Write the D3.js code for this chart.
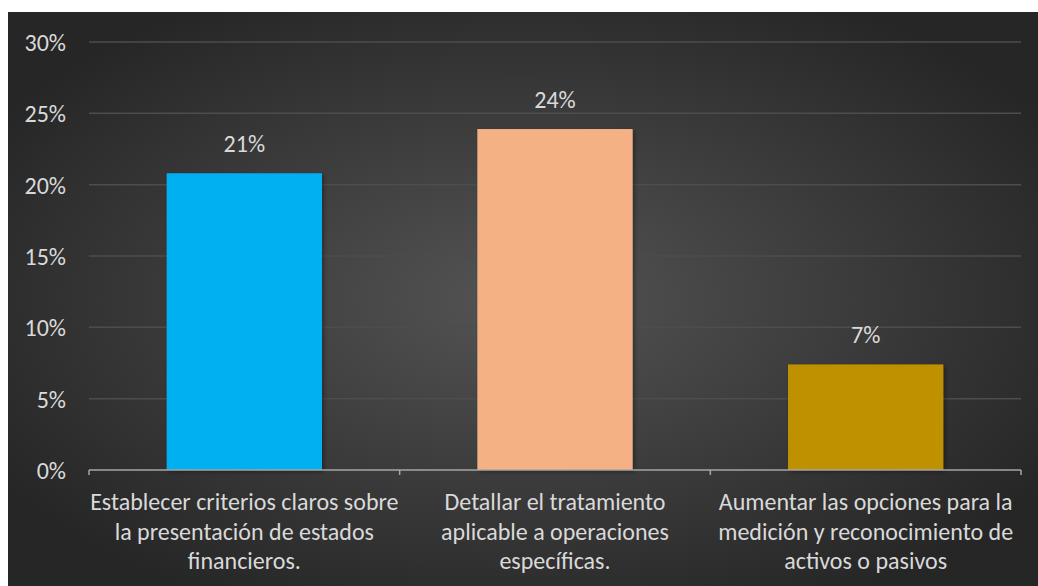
<!DOCTYPE html>
<html><head><meta charset="utf-8">
<script src="https://cdn.jsdelivr.net/npm/d3@7"></script>
<style>html,body{margin:0;padding:0;background:#fff;}svg{display:block;}</style>
</head><body>
<svg id="c" width="1038" height="586"></svg>
<script>
const categories = [
  ["Establecer criterios claros sobre", "la presentación de estados", "financieros."],
  ["Detallar el tratamiento", "aplicable a operaciones", "específicas."],
  ["Aumentar las opciones para la", "medición y reconocimiento de", "activos o pasivos"]
];
const values = [0.208, 0.239, 0.074];
const valueLabels = ["21%", "24%", "7%"];
const colors = ["#00B0F0", "#F4B183", "#BF9000"];
const yTicks = [0, 0.05, 0.10, 0.15, 0.20, 0.25, 0.30];

const svg = d3.select("#c");
const defs = svg.append("defs");
const rg = defs.append("radialGradient").attr("id","bg").attr("cx","50%").attr("cy","50%").attr("r","60%");
rg.append("stop").attr("offset","0%").attr("stop-color","#545454");
rg.append("stop").attr("offset","100%").attr("stop-color","#262626");
const f = defs.append("filter").attr("id","sh").attr("x","-10%").attr("y","-10%").attr("width","130%").attr("height","130%");
f.append("feDropShadow").attr("dx",2).attr("dy",2).attr("stdDeviation",2).attr("flood-color","#000").attr("flood-opacity",0.35);

svg.append("rect").attr("x",8).attr("y",12).attr("width",1030).attr("height",574).attr("fill","url(#bg)");

const font = "Carlito, Calibri, Lato, sans-serif";
const x = d3.scaleBand().domain(d3.range(categories.length)).range([89, 1021]).paddingInner(0.5).paddingOuter(0.25);
const y = d3.scaleLinear().domain([0, 0.30]).range([470, 42]);

// gridlines
svg.append("g").selectAll("line").data(yTicks.filter(d=>d>0)).join("line")
  .attr("x1",89).attr("x2",1021).attr("y1",d=>y(d)).attr("y2",d=>y(d))
  .attr("stroke","#4d4d4d").attr("stroke-width",1.5);

// y axis labels
const yAxis = d3.axisLeft(y).tickValues(yTicks).tickFormat(d3.format(".0%")).tickSize(0).tickPadding(0);
const gy = svg.append("g").attr("transform","translate(66,0)").call(yAxis);
gy.select(".domain").remove();
gy.selectAll("text").attr("fill","#d9d9d9").style("font-family",font).style("font-size","24px").attr("dy","0.35em");

// bars
svg.append("g").selectAll("rect").data(values).join("rect")
  .attr("x",(d,i)=>x(i)).attr("width",x.bandwidth())
  .attr("y",d=>y(d)).attr("height",d=>y(0)-y(d))
  .attr("fill",(d,i)=>colors[i]).attr("filter","url(#sh)");

// value labels
svg.append("g").selectAll("text").data(values).join("text")
  .attr("x",(d,i)=>x(i)+x.bandwidth()/2).attr("y",d=>y(d)-21)
  .attr("text-anchor","middle").attr("fill","#d9d9d9")
  .style("font-family",font).style("font-size","24px").text((d,i)=>valueLabels[i]);

// x axis
const gx = svg.append("g").attr("transform","translate(0,470)");
gx.append("line").attr("x1",89).attr("x2",1021).attr("stroke","#a6a6a6").attr("stroke-width",1.5);
const step = (1021-89)/categories.length;
gx.selectAll("line.t").data(d3.range(categories.length+1)).join("line").attr("class","t")
  .attr("x1",i=>89+i*step).attr("x2",i=>89+i*step).attr("y1",0).attr("y2",5)
  .attr("stroke","#a6a6a6").attr("stroke-width",1.5);

const cl = svg.append("g").selectAll("text").data(categories).join("text")
  .attr("text-anchor","middle").attr("fill","#d9d9d9")
  .style("font-family",font).style("font-size","24px");
cl.each(function(lines,i){
  const t = d3.select(this);
  lines.forEach((s,j)=>{
    t.append("tspan").attr("x",x(i)+x.bandwidth()/2).attr("y",510+j*29.5).text(s);
  });
});
</script>
</body></html>
